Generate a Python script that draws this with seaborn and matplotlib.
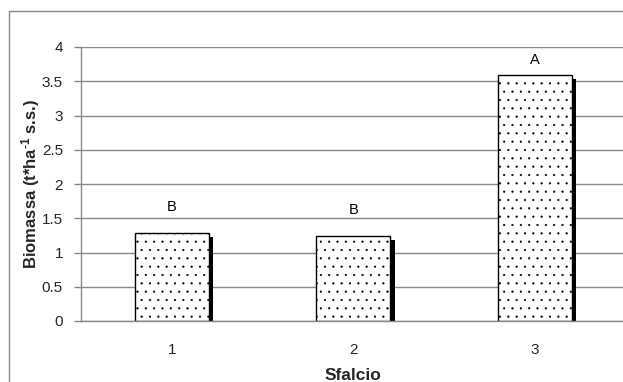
import matplotlib
matplotlib.use("Agg")
import matplotlib.pyplot as plt
import matplotlib.patheffects as pe
from matplotlib.patches import Rectangle
import seaborn as sns
import pandas as pd

# Biomass per cut (t/ha dry matter) with significance letters
sfalcio = ["1", "2", "3"]
biomassa = [1.28, 1.24, 3.59]
lettere = ["B", "B", "A"]
yticks = [0, 0.5, 1, 1.5, 2, 2.5, 3, 3.5, 4]
ytick_labels = ["0", "0.5", "1", "1.5", "2", "2.5", "3", "3.5", "4"]

# vertical gap (points) between each bar top and its letter
letter_gap = [14, 14, 5.5]

sns.set_style("white")
plt.rcParams["font.family"] = ["Liberation Sans", "DejaVu Sans"]
plt.rcParams["mathtext.fontset"] = "custom"
plt.rcParams["mathtext.rm"] = "Liberation Sans:bold"
plt.rcParams["mathtext.default"] = "rm"
plt.rcParams["hatch.linewidth"] = 0.35

df = pd.DataFrame({"Sfalcio": sfalcio, "Biomassa": biomassa})

W, H = 623, 382
fig = plt.figure(figsize=(W / 100, H / 100), dpi=100)
ax = fig.add_axes([81 / W, 1 - 321 / H, 544.5 / W, 274 / H])

grey = "#898989"

sns.barplot(data=df, x="Sfalcio", y="Biomassa", ax=ax, width=0.41,
            color="white", edgecolor="black", linewidth=1.0, hatch="..",
            zorder=3)

for bar in ax.patches:
    bar.set_path_effects([
        pe.SimplePatchShadow(offset=(3, -3), shadow_rgbFace="black", alpha=1.0),
        pe.Normal(),
    ])

for i, (v, t, g) in enumerate(zip(biomassa, lettere, letter_gap)):
    ax.annotate(t, xy=(i, v), xytext=(0, g), textcoords="offset points",
                ha="center", va="bottom", fontsize=10.5, color="black")

ax.set_ylim(0, 4)
ax.set_yticks(yticks)
ax.set_yticklabels(ytick_labels)
ax.yaxis.grid(True, color=grey, linewidth=1.0, zorder=0)
ax.set_axisbelow(True)

for s in ["top", "right"]:
    ax.spines[s].set_visible(False)
for s in ["left", "bottom"]:
    ax.spines[s].set_color(grey)
    ax.spines[s].set_linewidth(1.0)
    ax.spines[s].set_zorder(4)

ax.tick_params(axis="y", which="major", direction="out", length=5, width=1.0,
               color=grey, labelsize=11, pad=8, left=True)
ax.tick_params(axis="x", length=0, labelsize=11, pad=16)

ax.set_xlabel("Sfalcio", fontsize=12.5, fontweight="bold", labelpad=8)
ax.set_ylabel(r"Biomassa (t*ha$^{\text{-1}}$ s.s.)", fontsize=12,
              fontweight="bold", labelpad=0)

# chart-area frame
fig.patches.append(Rectangle((9 / W, 0 - 0.1), 2.0, 1 - 11 / H + 0.1,
                             transform=fig.transFigure, fill=False,
                             edgecolor=grey, linewidth=1.0))

fig.savefig("out.png", dpi=100)
